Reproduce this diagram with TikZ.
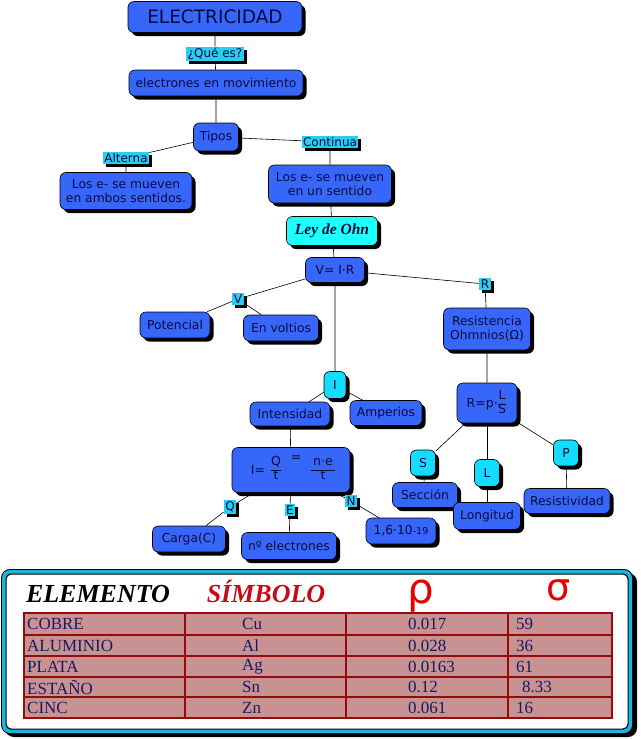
\documentclass[tikz,border=0pt]{standalone}
\usepackage{fontspec}
\setmainfont{DejaVu Sans}
\newfontfamily\serifx{Liberation Serif}
\usetikzlibrary{shadows,backgrounds}
\definecolor{nodeblue}{RGB}{54,102,250}
\definecolor{lblcyan}{RGB}{40,205,240}
\definecolor{smallcyan}{RGB}{20,220,255}
\definecolor{leycyan}{RGB}{30,255,255}
\definecolor{txtc}{RGB}{10,10,60}
\definecolor{cellfill}{RGB}{200,146,146}
\definecolor{cellline}{RGB}{150,10,10}
\definecolor{celltxt}{RGB}{25,25,95}
\definecolor{simbred}{RGB}{200,10,20}
\definecolor{greekred}{RGB}{230,0,0}
\definecolor{framecyan}{RGB}{30,180,225}
\newcommand{\frc}[2]{\renewcommand\arraystretch{0.95}\begin{tabular}{@{}c@{}}#1\\\hline #2\end{tabular}}
\tikzset{
  sh/.style={drop shadow={shadow xshift=3.5pt,shadow yshift=-3.5pt,fill=black,opacity=1}},
  box/.style={draw=black, line width=0.6pt, fill=nodeblue, rounded corners=6pt, sh, text=txtc,
    font=\fontsize{12.3}{14}\selectfont, align=center, inner sep=2pt},
  cbox/.style={box, fill=smallcyan},
  lbl/.style={fill=lblcyan, inner xsep=1.5pt, inner ysep=1.5pt, text=txtc, font=\fontsize{12}{13}\selectfont,
    drop shadow={shadow xshift=3pt,shadow yshift=-3pt,fill=black,opacity=1}},
  edge/.style={draw=black, line width=0.6pt},
  cell/.style={fill=cellfill, draw=cellline, line width=1.2pt},
  ct/.style={anchor=west, text=celltxt, font=\serifx\fontsize{17}{19}\selectfont, inner sep=0pt},
  plain/.style={inner sep=0pt, text=txtc, font=\fontsize{12.5}{14}\selectfont}
}
\begin{document}
\begin{tikzpicture}[x=1pt,y=-1pt]
\useasboundingbox (0,0) rectangle (640,739);
% ---- concept map nodes
\node[box, minimum width=174pt, minimum height=31pt, font=\fontsize{18.5}{20}\selectfont] (el) at (215,17) {ELECTRICIDAD};
\node[lbl] (que) at (215,54) {¿Qué es?};
\node[box, minimum width=174pt, minimum height=26pt] (mov) at (216,83) {electrones en movimiento};
\node[box, minimum width=45pt, minimum height=28pt] (tipos) at (216,137) {Tipos};
\node[lbl] (alt) at (126,158) {Alterna};
\node[lbl] (cont) at (330,142) {Continua};
\node[box, minimum width=132pt, minimum height=37pt] (amb) at (126,191) {Los e- se mueven\\en ambos sentidos.};
\node[box, minimum width=123pt, minimum height=38pt] (uno) at (330,184) {Los e- se mueven\\en un sentido};
\node[box, fill=leycyan, minimum width=91pt, minimum height=29pt, font=\serifx\bfseries\itshape\fontsize{15.5}{17}\selectfont] (ley) at (332,231) {Ley de Ohn};
\node[box, minimum width=59pt, minimum height=25pt] (vir) at (335,270) {V= I·R};
\node[lbl] (vl) at (238,299) {V};
\node[box, minimum width=70pt, minimum height=26pt] (pot) at (175,325) {Potencial};
\node[box, minimum width=75pt, minimum height=26pt] (volt) at (281,328) {En voltios};
\node[lbl] (rl) at (485,284) {R};
\node[box, minimum width=87pt, minimum height=42pt] (res) at (487,329) {Resistencia\\Ohmnios(Ω)};
\node[cbox, minimum width=22pt, minimum height=27pt] (ii) at (335,385) {I};
\node[box, minimum width=80pt, minimum height=24pt] (int) at (290,414) {Intensidad};
\node[box, minimum width=72pt, minimum height=25pt] (amp) at (386,413) {Amperios};
\node[box, minimum width=60pt, minimum height=40pt] (rp) at (487,403) {};
\node[plain, anchor=east] (rpt) at (498,404) {R=p·};
\node[plain, anchor=west] (rpf) at (498,404) {\frc{L}{S}};
\node[box, minimum width=118pt, minimum height=45pt] (form) at (291,470) {};
\node[plain] (fi) at (258,470) {I=};
\node[plain] (fq) at (276,470) {\frc{Q}{t}};
\node[plain] (feq) at (296,459) {=};
\node[plain] (fne) at (323,470) {\frc{\,n·e\,}{t}};
\node[cbox, minimum width=25pt, minimum height=26pt] (ss) at (423,463) {S};
\node[cbox, minimum width=25pt, minimum height=27pt] (ll) at (487,473) {L};
\node[cbox, minimum width=25pt, minimum height=26pt] (pp) at (566,453) {P};
\node[box, minimum width=65pt, minimum height=25pt] (sec) at (425,495) {Sección};
\node[box, minimum width=67pt, minimum height=27pt] (lon) at (487,516) {Longitud};
\node[box, minimum width=86pt, minimum height=25pt] (resis) at (567,501) {Resistividad};
\node[lbl] (ql) at (230,507) {Q};
\node[lbl] (elb) at (290,510) {E};
\node[lbl] (nl) at (351,501) {N};
\node[box, minimum width=73pt, minimum height=26pt] (carga) at (189,539) {Carga(C)};
\node[box, minimum width=95pt, minimum height=27pt] (ne) at (289,546) {nº electrones};
\node[box, minimum width=70pt, minimum height=26pt] (num) at (401,531) {1,6·10{\fontsize{9.5}{9.5}\selectfont -19}};
% ---- connectors and backgrounds
\begin{scope}[on background layer]
\fill[white] (0,0) rectangle (640,739);
\draw[edge] (el) -- (que) -- (mov) -- (tipos);
\draw[edge] (tipos) -- (alt) -- (amb);
\draw[edge] (tipos) -- (cont) -- (uno) -- (ley) -- (vir);
\draw[edge] (vir) -- (vl) -- (pot);
\draw[edge] (vl) -- (volt);
\draw[edge] (vir) -- (rl) -- (res) -- (rp);
\draw[edge] (vir) -- (ii) -- (int) -- (form);
\draw[edge] (ii) -- (amp);
\draw[edge] (rp) -- (ss) -- (sec);
\draw[edge] (rp) -- (ll) -- (lon);
\draw[edge] (rp) -- (pp) -- (resis);
\draw[edge] (form) -- (ql) -- (carga);
\draw[edge] (form) -- (elb) -- (ne);
\draw[edge] (form) -- (nl) -- (num);
% ---- table frame
\fill[black, rounded corners=9pt] (5,573) rectangle (637,737);
\fill[black, rounded corners=9pt] (1,569) rectangle (633,734);
\fill[framecyan, rounded corners=8pt] (2,570) rectangle (632,733);
\fill[black, rounded corners=5pt] (5.5,573.5) rectangle (628.5,729.5);
\fill[white, rounded corners=5pt] (6.5,574.5) rectangle (627.5,728.5);
\end{scope}
% ---- table
\node[font=\serifx\bfseries\itshape\fontsize{26}{28}\selectfont, text=black, inner sep=0pt, anchor=base] (hel) at (98,602) {ELEMENTO};
\node[font=\serifx\bfseries\itshape\fontsize{26}{28}\selectfont, text=simbred, inner sep=0pt, anchor=base] (hsi) at (266,602) {SÍMBOLO};
\node[font=\fontsize{42}{42}\selectfont, text=greekred, inner sep=0pt] (hrho) at (421,596) {ρ};
\node[font=\fontsize{38}{38}\selectfont, text=greekred, inner sep=0pt] (hsig) at (559,590) {σ};
\foreach \yt/\yb/\a/\b/\c/\d/\xd [count=\i] in {613/635/COBRE/Cu/0.017/59/516, 635/656/ALUMINIO/Al/0.028/36/516, 656/677/PLATA/Ag/0.0163/61/516, 677/697/ESTAÑO/Sn/0.12/8.33/522, 697/718/CINC/Zn/0.061/16/516} {
  \foreach \xl/\xr in {24/185,185/346,346/508,508/612} \draw[cell] (\xl,\yt) rectangle (\xr,\yb);
  \node[ct] (ca\i) at (27,{(\yt+\yb)/2}) {\a};
  \node[ct] (cb\i) at (242,{(\yt+\yb)/2}) {\b};
  \node[ct] (cc\i) at (408,{(\yt+\yb)/2}) {\c};
  \node[ct] (cd\i) at (\xd,{(\yt+\yb)/2}) {\d};
}
\end{tikzpicture}
\end{document}
